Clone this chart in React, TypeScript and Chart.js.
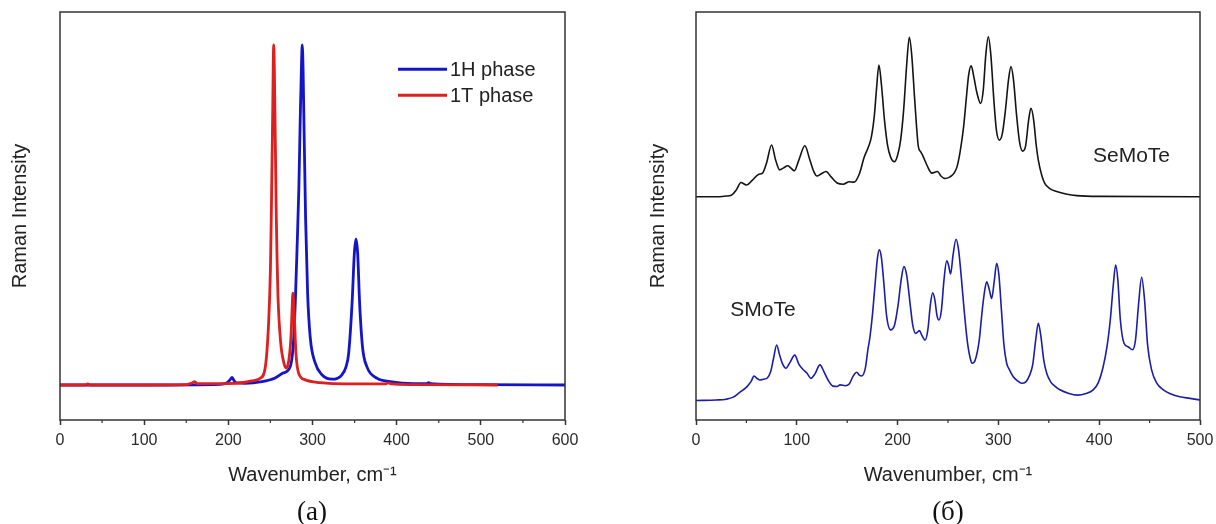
import React, { useEffect, useRef } from "react";
import { Chart, registerables } from "chart.js";

Chart.register(...registerables);

const SANS = "'Liberation Sans', Arial, Helvetica, sans-serif";
const SERIF = "'Liberation Serif', 'Times New Roman', Times, serif";

// ---------------- Panel (a) ----------------
const phaseLabels = ["1H phase", "1T phase"];

const h1Wavenumber = [0, 100, 190, 198, 202, 204.5, 207, 210, 220, 240, 255, 265, 273.6, 277.5, 279.5, 281.5, 283.8, 285.4, 286.8, 287.8, 288.8, 289.8, 291.8, 294.2, 297.3, 303.3, 311.2, 323, 335, 340, 343, 347, 349.8, 351.6, 353.6, 356, 359.5, 364.6, 376.5, 392.3, 420, 436, 438, 440, 500, 600];
const h1Intensity = [0, 0, 0.002, 0.006, 0.015, 0.022, 0.012, 0.006, 0.005, 0.01, 0.02, 0.035, 0.054, 0.13, 0.24, 0.39, 0.58, 0.78, 0.93, 1.0, 0.93, 0.78, 0.49, 0.27, 0.14, 0.064, 0.03, 0.017, 0.03, 0.055, 0.094, 0.24, 0.39, 0.43, 0.39, 0.24, 0.11, 0.054, 0.02, 0.01, 0.004, 0.004, 0.007, 0.004, 0.001, 0];

const t1Wavenumber = [0, 30, 33, 36, 100, 150, 157, 160, 163, 200, 220, 230, 238, 244, 248, 250, 251, 252.6, 253.9, 255.5, 257, 258, 259, 262, 266, 269, 272, 274.4, 275.6, 276.7, 278.3, 280.3, 283.5, 291.4, 309, 340, 386, 390, 394, 420, 520];
const t1Intensity = [0, 0, 0.003, 0, 0, 0.001, 0.006, 0.01, 0.004, 0.004, 0.008, 0.013, 0.02, 0.054, 0.19, 0.34, 0.49, 0.78, 1.0, 0.78, 0.49, 0.36, 0.26, 0.13, 0.065, 0.05, 0.075, 0.14, 0.21, 0.27, 0.21, 0.094, 0.035, 0.015, 0.007, 0.003, 0.003, 0.006, 0.003, 0.001, 0];

const xTicksA = [0, 100, 200, 300, 400, 500, 600];

// ---------------- Panel (б) ----------------
const seriesLabelsB = ["SeMoTe", "SMoTe"];

const seMoTeWavenumber = [0, 20, 30, 35, 40, 44.6, 50, 56, 62, 66, 70, 75, 79, 83, 87, 91, 94, 97.5, 102, 108, 113, 117, 120, 124, 129, 134, 140, 146, 152, 157, 162, 167, 171, 174, 177, 179, 181.5, 184, 187, 190, 193, 196.8, 200, 203, 206, 209, 211.6, 214, 217, 220.6, 223, 225.5, 229, 234, 239.6, 243, 247, 252, 256, 259, 262, 265.5, 268, 270.5, 273, 275.5, 278.5, 282.4, 285, 287.5, 290, 292.5, 295.5, 298, 301, 304, 307, 310, 312.5, 315, 318, 321, 324, 327, 330, 332.3, 335, 337.5, 339.6, 343, 346, 351, 357.8, 367, 377.7, 400, 500];
const seMoTeIntensity = [54.73, 54.73, 54.9, 55.1, 56.4, 58.2, 57.6, 58.8, 60.2, 60.5, 63.0, 67.4, 63.7, 61.3, 61.8, 62.3, 61.8, 61.1, 63.7, 67.2, 63.7, 60.8, 59.8, 60.3, 60.9, 59.6, 58.1, 57.8, 58.4, 58.3, 60.3, 64.5, 66.9, 69.4, 74.8, 80.9, 87.0, 82.1, 73.5, 67.4, 64.5, 63.3, 64.9, 68.6, 76.0, 87.0, 93.8, 89.5, 78.4, 67.0, 65.7, 64.5, 62.5, 60.5, 60.9, 59.8, 59.2, 59.6, 60.5, 62.1, 65.7, 71.9, 78.4, 84.6, 86.8, 84.3, 80.4, 77.6, 80.9, 89.5, 93.9, 89.5, 78.4, 71.1, 68.6, 70.3, 76.0, 83.3, 86.6, 83.3, 74.8, 68.1, 65.9, 67.2, 73.5, 76.4, 73.5, 67.4, 63.7, 60.0, 58.0, 56.7, 56.0, 55.4, 55.0, 54.8, 54.73];

const sMoTeWavenumber = [0, 20, 30, 37, 44, 49, 52, 55, 57.5, 60, 63.5, 67, 70.8, 74, 77, 80, 83, 86, 89.3, 93, 98, 102, 106.5, 110, 114, 118, 123, 127, 131, 136, 140, 143, 148, 152, 156, 159.4, 162, 164.4, 168, 170.5, 172.6, 175, 178, 180, 181.9, 184, 186.5, 189, 193, 197, 200.5, 203.5, 206.3, 209, 212, 215, 218, 221.7, 224, 227.3, 230, 232.5, 234.8, 237, 239, 241, 243.5, 246, 248.7, 250.5, 252.6, 255, 258, 260.5, 263, 266, 269, 272, 274, 277, 281, 284, 286.5, 288.4, 291, 293.3, 296, 298.3, 300.5, 303, 305.5, 308.2, 311, 314.8, 319, 323, 327, 331, 334, 337, 339.6, 342, 345, 348, 352, 356, 361, 370, 378, 387, 394, 399, 404, 408, 411, 414, 416.3, 418.5, 421, 424.6, 429, 432.9, 436, 439, 442.1, 445, 448, 452, 457, 463.6, 470, 480, 490, 500];
const sMoTeIntensity = [4.78, 4.9, 5.1, 5.6, 6.9, 7.8, 8.6, 9.6, 10.8, 10.3, 9.8, 10.0, 10.3, 11.8, 15.2, 18.4, 15.9, 13.7, 12.7, 14.0, 15.9, 13.7, 12.3, 11.5, 10.2, 11.3, 13.5, 11.8, 9.8, 8.3, 8.2, 8.6, 8.4, 8.8, 10.8, 11.7, 11.0, 10.8, 12.7, 17.2, 20.4, 25.7, 34.3, 39.7, 41.7, 39.7, 33.1, 25.7, 22.1, 23.3, 28.2, 34.3, 37.6, 35.5, 29.4, 23.3, 21.2, 21.9, 20.8, 19.6, 22.1, 28.2, 31.2, 29.4, 25.7, 24.5, 27.0, 34.3, 39.0, 38.0, 35.8, 40.4, 44.3, 41.7, 35.5, 27.0, 19.6, 15.2, 13.9, 14.7, 19.6, 27.0, 31.9, 33.9, 31.9, 29.8, 34.3, 38.4, 35.5, 27.0, 18.4, 13.9, 12.3, 10.6, 9.6, 9.0, 9.3, 11.0, 13.5, 19.6, 23.7, 20.8, 14.7, 11.4, 9.3, 8.3, 7.4, 6.5, 6.1, 6.5, 7.4, 9.1, 13.1, 18.4, 24.5, 33.1, 38.0, 34.3, 24.5, 18.8, 17.9, 17.2, 19.6, 28.2, 35.0, 29.4, 18.4, 12.3, 9.1, 7.4, 6.5, 5.7, 5.3, 4.9];

const xTicksB = [0, 100, 200, 300, 400, 500];

const xTitle = "Wavenumber, cm\u207B\u00B9";
const yTitle = "Raman Intensity";
const captions = ["(a)", "(б)"];

const toPoints = (xs: number[], ys: number[]) => xs.map((x, i) => ({ x, y: ys[i] }));

const framePlugin = {
  id: "frame",
  afterDraw(chart: any) {
    const { ctx, chartArea: a } = chart;
    const xs = chart.scales.x;
    ctx.save();
    ctx.strokeStyle = "#333";
    ctx.lineWidth = 1.5;
    ctx.strokeRect(a.left, a.top, a.right - a.left, a.bottom - a.top);
    ctx.lineWidth = 1.2;
    const tv = xs.ticks.map((t: any) => t.value);
    for (let i = 0; i < tv.length - 1; i++) {
      const px = xs.getPixelForValue((tv[i] + tv[i + 1]) / 2);
      ctx.beginPath();
      ctx.moveTo(px, a.bottom);
      ctx.lineTo(px, a.bottom + 3);
      ctx.stroke();
    }
    ctx.restore();
  },
};

const lineLegendPlugin = {
  id: "lineLegend",
  afterDraw(chart: any, _args: any, opts: any) {
    if (!opts || !opts.show) return;
    const { ctx, chartArea: a } = chart;
    ctx.save();
    ctx.font = `20px ${SANS}`;
    ctx.textBaseline = "middle";
    ctx.textAlign = "left";
    opts.order.forEach((di: number, row: number) => {
      const ds = chart.data.datasets[di];
      const y = a.top + opts.top + row * opts.rowGap;
      ctx.strokeStyle = ds.borderColor;
      ctx.lineWidth = 3;
      ctx.beginPath();
      ctx.moveTo(a.left + opts.left, y);
      ctx.lineTo(a.left + opts.left + opts.lineLen, y);
      ctx.stroke();
      ctx.fillStyle = "#222";
      ctx.fillText(ds.label, a.left + opts.left + opts.lineLen + 3, y + 1);
    });
    ctx.restore();
  },
};

const notesPlugin = {
  id: "notes",
  afterDraw(chart: any, _args: any, opts: any) {
    if (!opts || !opts.items) return;
    const { ctx, chartArea: a } = chart;
    ctx.save();
    ctx.font = `21px ${SANS}`;
    ctx.textBaseline = "middle";
    ctx.textAlign = "center";
    ctx.fillStyle = "#222";
    opts.items.forEach((it: any) => ctx.fillText(it.text, a.left + it.cx, a.top + it.cy));
    ctx.restore();
  },
};

function axes(ticksList: number[], yMin: number, yMax: number, yWidth: number, yTitlePad: number) {
  return {
    x: {
      type: "linear",
      min: ticksList[0],
      max: ticksList[ticksList.length - 1],
      afterBuildTicks: (s: any) => {
        s.ticks = ticksList.map((v) => ({ value: v }));
      },
      ticks: {
        color: "#2a2a2a",
        font: { family: SANS, size: 16 },
        padding: 6,
        maxRotation: 0,
        autoSkip: false,
        callback: (v: any) => String(v),
      },
      grid: { display: true, drawOnChartArea: false, drawTicks: true, tickLength: 5, tickColor: "#333", tickWidth: 1.5 },
      border: { display: false },
      title: { display: true, text: xTitle, color: "#222", font: { family: SANS, size: 20 }, padding: { top: 0, bottom: 37 } },
      afterFit: (s: any) => {
        s.height = 104;
        s.paddingLeft = 0;
        s.paddingRight = 0;
      },
    },
    y: {
      type: "linear",
      min: yMin,
      max: yMax,
      ticks: { display: false },
      grid: { display: false },
      border: { display: false },
      title: { display: true, text: yTitle, color: "#222", font: { family: SANS, size: 20 }, padding: { top: yTitlePad, bottom: 0 } },
      afterFit: (s: any) => {
        s.width = yWidth;
      },
    },
  };
}

function configA(): any {
  return {
    type: "line",
    data: {
      datasets: [
        {
          label: phaseLabels[1],
          data: toPoints(t1Wavenumber, t1Intensity),
          borderColor: "#dd1f1f",
          borderWidth: 2.8,
          pointRadius: 0,
          cubicInterpolationMode: "monotone",
          fill: false,
        },
        {
          label: phaseLabels[0],
          data: toPoints(h1Wavenumber, h1Intensity),
          borderColor: "#1414c8",
          borderWidth: 2.8,
          pointRadius: 0,
          cubicInterpolationMode: "monotone",
          fill: false,
        },
      ],
    },
    options: {
      responsive: false,
      animation: false,
      events: [],
      layout: { padding: { top: 12, right: 43, left: 0, bottom: 0 } },
      scales: axes(xTicksA, -0.103, 1.097, 60, 8),
      plugins: {
        legend: { display: false },
        tooltip: { enabled: false },
        lineLegend: { show: true, order: [1, 0], left: 338, top: 57.3, rowGap: 26, lineLen: 49 },
      },
    },
    plugins: [framePlugin, lineLegendPlugin],
  };
}

function configB(): any {
  return {
    type: "line",
    data: {
      datasets: [
        {
          label: seriesLabelsB[0],
          data: toPoints(seMoTeWavenumber, seMoTeIntensity),
          borderColor: "#141414",
          borderWidth: 1.6,
          pointRadius: 0,
          cubicInterpolationMode: "monotone",
          fill: false,
        },
        {
          label: seriesLabelsB[1],
          data: toPoints(sMoTeWavenumber, sMoTeIntensity),
          borderColor: "#1c1ca8",
          borderWidth: 1.6,
          pointRadius: 0,
          cubicInterpolationMode: "monotone",
          fill: false,
        },
      ],
    },
    options: {
      responsive: false,
      animation: false,
      events: [],
      layout: { padding: { top: 12, right: 16, left: 0, bottom: 0 } },
      scales: axes(xTicksB, 0, 100, 88, 38),
      plugins: {
        legend: { display: false },
        tooltip: { enabled: false },
        notes: {
          items: [
            { text: seriesLabelsB[0], cx: 435.5, cy: 144.7 },
            { text: seriesLabelsB[1], cx: 67, cy: 298.7 },
          ],
        },
      },
    },
    plugins: [framePlugin, notesPlugin],
  };
}

export default function App() {
  const refA = useRef<HTMLCanvasElement>(null);
  const refB = useRef<HTMLCanvasElement>(null);

  useEffect(() => {
    const a = new Chart(refA.current as HTMLCanvasElement, configA());
    const b = new Chart(refB.current as HTMLCanvasElement, configB());
    return () => {
      a.destroy();
      b.destroy();
    };
  }, []);

  const captionStyle = (cx: number): React.CSSProperties => ({
    position: "absolute",
    left: cx - 60,
    width: 120,
    top: 495,
    height: 32,
    lineHeight: "32px",
    textAlign: "center",
    fontFamily: SERIF,
    fontSize: 27,
    color: "#111",
  });

  return (
    <div style={{ position: "absolute", left: 0, top: 0, width: 1216, height: 524, background: "#fff", overflow: "hidden" }}>
      <canvas ref={refA} width={608} height={524} style={{ position: "absolute", left: 0, top: 0, width: 608, height: 524 }} />
      <canvas ref={refB} width={608} height={524} style={{ position: "absolute", left: 608, top: 0, width: 608, height: 524 }} />
      <div style={captionStyle(312)}>{captions[0]}</div>
      <div style={captionStyle(948)}>{captions[1]}</div>
    </div>
  );
}
